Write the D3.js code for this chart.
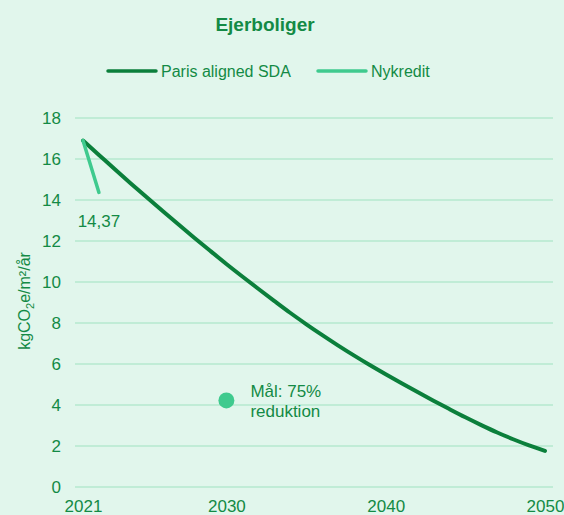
<!DOCTYPE html>
<html><head><meta charset="utf-8">
<script src="https://cdn.jsdelivr.net/npm/d3@7"></script>
<style>body{margin:0;background:#e1f6ec;}svg{display:block;font-family:"Liberation Sans",Arial,sans-serif;}</style>
</head><body><svg id="c" width="564" height="515"></svg>
<script>
const parisYears = [2021,2022,2023,2024,2025,2026,2027,2028,2029,2030,2031,2032,2033,2034,2035,2036,2037,2038,2039,2040,2041,2042,2043,2044,2045,2046,2047,2048,2049,2050];
const parisValues = [16.9,16.2,15.5,14.81,14.13,13.46,12.8,12.15,11.51,10.88,10.27,9.67,9.08,8.5,7.95,7.42,6.91,6.42,5.95,5.5,5.06,4.63,4.21,3.8,3.4,3.02,2.66,2.33,2.03,1.76];
const nykYears = [2021,2022];
const nykValues = [16.9,14.37];
const targetYear = 2030, targetValue = 4.225;
const yTicks = [0,2,4,6,8,10,12,14,16,18];
const xTicks = [2021,2030,2040,2050];

const dark="#0b7f3b", light="#3fca8e", txt="#138a45", grid="#b5e8cf";
const FF="Liberation Sans, Arial, sans-serif";
const svg=d3.select("#c");
const x=d3.scaleLinear().domain([2021,2050]).range([83,545]);
const y=d3.scaleLinear().domain([0,18]).range([487,118]);

svg.append("text").attr("x",265).attr("y",30.5).attr("text-anchor","middle").attr("font-weight","bold").attr("font-size",19).attr("fill",txt).text("Ejerboliger");

// legend
const lg=svg.append("g");
lg.append("line").attr("x1",108).attr("x2",156).attr("y1",71).attr("y2",71).attr("stroke",dark).attr("stroke-width",3.5).attr("stroke-linecap","round");
lg.append("text").attr("x",161).attr("y",77).attr("font-size",16).attr("fill",txt).text("Paris aligned SDA");
lg.append("line").attr("x1",318).attr("x2",366).attr("y1",71).attr("y2",71).attr("stroke",light).attr("stroke-width",3.5).attr("stroke-linecap","round");
lg.append("text").attr("x",371).attr("y",77).attr("font-size",16).attr("fill",txt).text("Nykredit");

// grid
svg.append("g").selectAll("line").data(yTicks).join("line")
 .attr("x1",75).attr("x2",553).attr("y1",d=>y(d)).attr("y2",d=>y(d)).attr("stroke",grid).attr("stroke-width",1.3);

const ya=svg.append("g").attr("transform","translate(75,0)").call(d3.axisLeft(y).tickValues(yTicks).tickSize(0).tickPadding(14));
ya.select(".domain").remove();
ya.selectAll("text").attr("font-size",17).attr("fill",txt).attr("font-family",FF);

const xa=svg.append("g").attr("transform","translate(0,490)").call(d3.axisBottom(x).tickValues(xTicks).tickFormat(d3.format("d")).tickSize(0).tickPadding(10));
xa.select(".domain").remove();
xa.selectAll("text").attr("font-size",17).attr("fill",txt).attr("font-family",FF);

// y label
const yl=svg.append("text").attr("transform","translate(30,301) rotate(-90)").attr("text-anchor","middle").attr("font-size",16).attr("fill",txt);
yl.append("tspan").text("kgCO");
yl.append("tspan").attr("font-size",11).attr("dy",4).text("2");
yl.append("tspan").attr("dy",-4).text("e/m²/år");

const line=d3.line().x(d=>x(d[0])).y(d=>y(d[1])).curve(d3.curveMonotoneX);
svg.append("path").datum(parisYears.map((d,i)=>[d,parisValues[i]])).attr("d",line).attr("fill","none").attr("stroke",dark).attr("stroke-width",4).attr("stroke-linecap","round");
svg.append("path").datum(nykYears.map((d,i)=>[d,nykValues[i]])).attr("d",d3.line().x(d=>x(d[0])).y(d=>y(d[1]))).attr("fill","none").attr("stroke",light).attr("stroke-width",3.5).attr("stroke-linecap","round");

svg.append("text").attr("x",x(nykYears[1])).attr("y",y(nykValues[1])+35).attr("text-anchor","middle").attr("font-size",17).attr("fill",txt).text(nykValues[1].toString().replace(".",","));

svg.append("circle").attr("cx",x(targetYear)).attr("cy",y(targetValue)).attr("r",8).attr("fill",light);
svg.append("text").attr("x",x(targetYear)+24).attr("y",y(targetValue)-3.5).attr("font-size",17).attr("fill",txt).text("Mål: 75%");
svg.append("text").attr("x",x(targetYear)+24).attr("y",y(targetValue)+16.5).attr("font-size",17).attr("fill",txt).text("reduktion");
</script></body></html>
